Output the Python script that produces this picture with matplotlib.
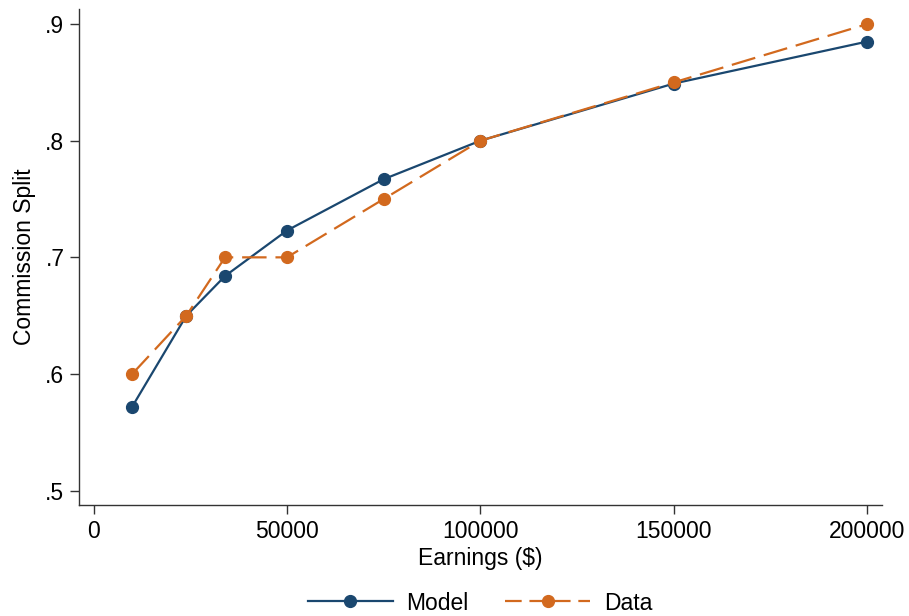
import matplotlib
matplotlib.use("Agg")
import matplotlib.pyplot as plt
from matplotlib.lines import Line2D

plt.rcParams['font.family'] = ['Liberation Sans', 'DejaVu Sans']

earnings = [10000, 24000, 34000, 50000, 75000, 100000, 150000, 200000]
model = [0.572, 0.650, 0.684, 0.723, 0.767, 0.800, 0.849, 0.885]
data = [0.60, 0.65, 0.70, 0.70, 0.75, 0.80, 0.85, 0.90]
xticks = [0, 50000, 100000, 150000, 200000]
yticks = [0.5, 0.6, 0.7, 0.8, 0.9]
ytick_labels = ['.5', '.6', '.7', '.8', '.9']

navy = '#1a476f'
orange = '#d2691e'
fs = 16.5

fig = plt.figure(figsize=(9.09, 6.16), dpi=100)
ax = fig.add_axes([79/909, 1-505/616, (882-79)/909, (505-9)/616])

ax.plot(earnings, model, color=navy, lw=1.6, marker='o', ms=8.5, label='Model', zorder=3)
ax.plot(earnings, data, color=orange, lw=1.6, marker='o', ms=8.5, dashes=(11, 4),
        label='Data', zorder=3)

ax.set_xlim(-3750, 203800)
ax.set_ylim(0.4877, 0.9129)
ax.set_xticks(xticks)
ax.set_xticklabels([str(v) for v in xticks])
ax.set_yticks(yticks)
ax.set_yticklabels(ytick_labels)
ax.tick_params(direction='out', length=6.5, width=1.0, labelsize=fs, pad=4, color='#333333')

for s in ['top', 'right']:
    ax.spines[s].set_visible(False)
ax.spines['left'].set_color('#333333')
ax.spines['bottom'].set_color('#333333')
ax.spines['left'].set_linewidth(1.0)
ax.spines['bottom'].set_linewidth(1.0)

ax.set_xlabel('Earnings ($)', fontsize=fs, labelpad=3)
ax.set_ylabel('Commission Split', fontsize=fs, labelpad=7)

handles = [Line2D([], [], color=navy, lw=1.6, marker='o', ms=8.5),
           Line2D([], [], color=orange, lw=1.6, marker='o', ms=8.5, dashes=(7.5, 3.5))]
fig.legend(handles, ['Model', 'Data'], loc='center', bbox_to_anchor=(480/909, 1-603/616),
           ncol=2, frameon=False, fontsize=fs, handlelength=3.7, handletextpad=0.6,
           columnspacing=1.6, borderpad=0)

fig.savefig('out.png', dpi=100, facecolor='white')
